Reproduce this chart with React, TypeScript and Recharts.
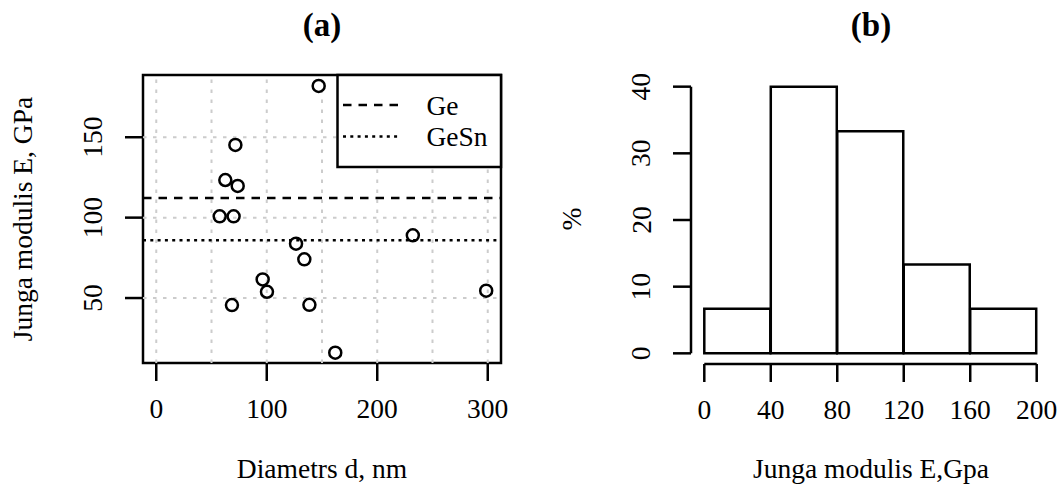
import {
  Bar,
  ComposedChart,
  ReferenceArea,
  ReferenceLine,
  Scatter,
  ScatterChart,
  XAxis,
  YAxis,
} from "recharts";

// (a) measured nanowires
const diameters = [147, 71.6, 62.5, 73.7, 57.4, 70, 126.5, 134, 96.3, 100.2, 68.5, 138.6, 162, 232.2, 298.6];
const moduli = [181.9, 145.2, 123.4, 119.7, 100.8, 100.8, 83.8, 74.1, 61.6, 53.9, 45.6, 45.8, 16, 89, 54.6];
const xTicksA = [0, 100, 200, 300];
const yTicksA = [50, 100, 150];
const gridXA = [0, 50, 100, 150, 200, 250, 300];
const gridYA = [50, 100, 150];
const bulkNames = ["Ge", "GeSn"];
const bulkModuli = [112.2, 85.9];

// (b) histogram of moduli
const binStarts = [0, 40, 80, 120, 160];
const binEnds = [40, 80, 120, 160, 200];
const binPercent = [6.67, 40, 33.33, 13.33, 6.67];
const xTicksB = [0, 40, 80, 120, 160, 200];
const yTicksB = [0, 10, 20, 30, 40];

const xDomainA = [-12, 312];
const yDomainA = [9.6, 188.7];
const xDomainB = [-8, 208];
const yDomainB = [-1.6, 41.6];

const points = diameters.map((d, i) => ({ d, e: moduli[i] }));
const bins = binStarts.map((s, i) => ({ mid: (s + binEnds[i]) / 2, pct: binPercent[i] }));

const FONT = '"Liberation Serif", "Times New Roman", Times, serif';
const FS = 27.5;
const LW = 2.5;
const dashes = ["8.5 7", "3 4.3"];
const txt = { fontFamily: FONT, fontSize: FS, fill: "#000" };

const XTick = (props: any) => {
  const { x, y, payload } = props;
  return (
    <text x={x} y={y + 37} textAnchor="middle" style={txt}>
      {payload.value}
    </text>
  );
};

const YTick = (props: any) => {
  const { x, y, payload } = props;
  const bx = x - 22.5;
  return (
    <text x={bx} y={y} transform={`rotate(-90 ${bx} ${y})`} textAnchor="middle" style={txt}>
      {payload.value}
    </text>
  );
};

const Circle = (props: any) => (
  <circle cx={props.cx} cy={props.cy} r={6} fill="none" stroke="#000" strokeWidth={LW} />
);

const tickStyle = { stroke: "#000", strokeWidth: LW };

export default function App() {
  return (
    <div
      style={{
        position: "absolute",
        left: 0,
        top: 0,
        width: 1064,
        height: 503,
        background: "#fff",
        fontFamily: FONT,
      }}
    >
      {/* PANEL A */}
      <div style={{ position: "absolute", left: 0, top: 0 }}>
        <ScatterChart width={532} height={503} margin={{ top: 75, right: 31, bottom: 80, left: 83 }}>
          <XAxis
            type="number"
            dataKey="d"
            domain={xDomainA}
            allowDataOverflow
            ticks={xTicksA}
            interval={0}
            height={60}
            tickSize={18}
            tickMargin={0}
            axisLine={false}
            tickLine={tickStyle}
            tick={<XTick />}
          />
          <YAxis
            type="number"
            dataKey="e"
            domain={yDomainA}
            allowDataOverflow
            ticks={yTicksA}
            interval={0}
            width={60}
            tickSize={18}
            tickMargin={0}
            axisLine={false}
            tickLine={tickStyle}
            tick={<YTick />}
          />
          {gridXA.map((g) => (
            <ReferenceLine key={"gx" + g} x={g} stroke="#cccccc" strokeWidth={2} strokeDasharray="3.5 6.5" />
          ))}
          {gridYA.map((g) => (
            <ReferenceLine key={"gy" + g} y={g} stroke="#cccccc" strokeWidth={2} strokeDasharray="3.5 6.5" />
          ))}
          {bulkModuli.map((v, i) => (
            <ReferenceLine key={bulkNames[i]} y={v} stroke="#000" strokeWidth={LW} strokeDasharray={dashes[i]} />
          ))}
          <Scatter data={points} shape={<Circle />} isAnimationActive={false} />
          <ReferenceArea
            x1={xDomainA[0]}
            x2={xDomainA[1]}
            y1={yDomainA[0]}
            y2={yDomainA[1]}
            fill="none"
            fillOpacity={0}
            stroke="#000"
            strokeWidth={LW}
          />
        </ScatterChart>
      </div>

      {/* PANEL B */}
      <div style={{ position: "absolute", left: 532, top: 0 }}>
        <ComposedChart
          width={532}
          height={503}
          data={bins}
          barCategoryGap={0}
          barGap={0}
          margin={{ top: 76, right: 14, bottom: 79, left: 99 }}
        >
          <XAxis
            type="number"
            dataKey="mid"
            domain={xDomainB}
            allowDataOverflow
            ticks={xTicksB}
            interval={0}
            height={60}
            tickSize={18}
            tickMargin={0}
            axisLine={false}
            tickLine={tickStyle}
            tick={<XTick />}
          />
          <YAxis
            type="number"
            domain={yDomainB}
            allowDataOverflow
            ticks={yTicksB}
            interval={0}
            width={60}
            tickSize={18}
            tickMargin={0}
            axisLine={false}
            tickLine={tickStyle}
            tick={<YTick />}
          />
          <Bar dataKey="pct" fill="#fff" stroke="#000" strokeWidth={LW} isAnimationActive={false} />
          <ReferenceLine
            segment={[
              { x: xDomainB[0], y: yTicksB[0] },
              { x: xDomainB[0], y: yTicksB[yTicksB.length - 1] },
            ]}
            stroke="#000"
            strokeWidth={LW}
            ifOverflow="visible"
          />
          <ReferenceLine
            segment={[
              { x: xTicksB[0], y: yDomainB[0] },
              { x: xTicksB[xTicksB.length - 1], y: yDomainB[0] },
            ]}
            stroke="#000"
            strokeWidth={LW}
            ifOverflow="visible"
          />
        </ComposedChart>
      </div>

      {/* TITLES, AXIS LABELS, LEGEND */}
      <svg
        width={1064}
        height={503}
        style={{ position: "absolute", left: 0, top: 0, pointerEvents: "none", fontFamily: FONT }}
      >
        <text x={322} y={36} textAnchor="middle" style={{ ...txt, fontSize: 33, fontWeight: "bold" }}>(a)</text>
        <text x={871} y={36} textAnchor="middle" style={{ ...txt, fontSize: 33, fontWeight: "bold" }}>(b)</text>
        <text x={322} y={478} textAnchor="middle" style={txt}>Diametrs d, nm</text>
        <text x={871} y={478} textAnchor="middle" style={txt}>Junga modulis E,Gpa</text>
        <text x={32} y={219} transform="rotate(-90 32 219)" textAnchor="middle" style={txt}>
          Junga modulis E, GPa
        </text>
        <text x={581} y={219} transform="rotate(-90 581 219)" textAnchor="middle" style={txt}>
          %
        </text>
        <rect x={337.5} y={75} width={163.5} height={92} fill="#fff" stroke="#000" strokeWidth={LW} />
        {bulkNames.map((n, i) => (
          <g key={n}>
            <line
              x1={343}
              x2={398}
              y1={105 + i * 31.5}
              y2={105 + i * 31.5}
              stroke="#000"
              strokeWidth={LW}
              strokeDasharray={dashes[i]}
            />
            <text x={426.5} y={114.5 + i * 31.5} style={txt}>{n}</text>
          </g>
        ))}
      </svg>
    </div>
  );
}
